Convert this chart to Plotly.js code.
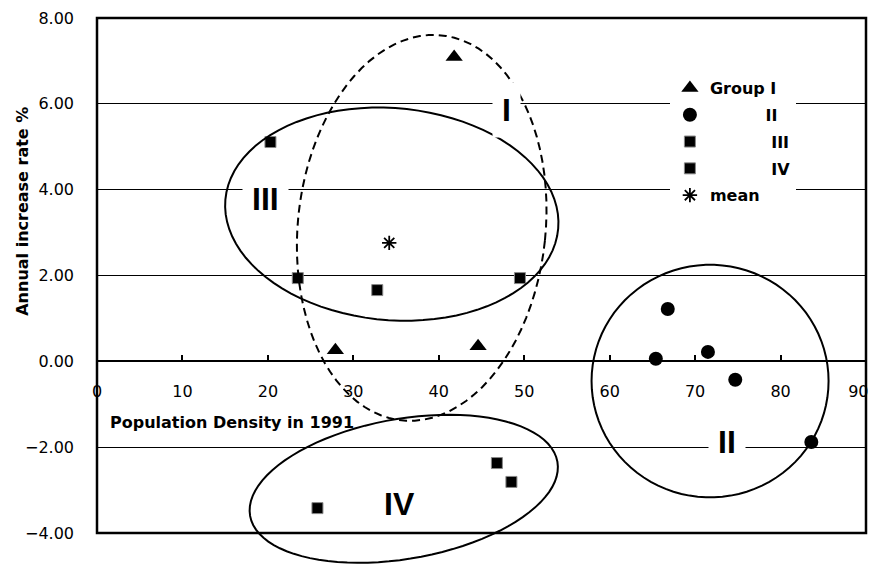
<!DOCTYPE html>
<html>
<head>
<meta charset="utf-8">
<script src="https://cdn.plot.ly/plotly-3.0.1.min.js"></script>
<style>
  body { margin: 0; background: #fff; }
  #myDiv { width: 873px; height: 565px; }
</style>
</head>
<body>
<div id="myDiv"></div>
<script>
// values
var groupIx = [41.8, 27.9, 44.6];
var groupIy = [7.09, 0.26, 0.35];

var groupIIx = [66.8, 65.4, 71.5, 74.7, 83.6];
var groupIIy = [1.22, 0.06, 0.22, -0.43, -1.88];

var groupIIIx = [20.3, 23.5, 32.8, 49.5];
var groupIIIy = [5.11, 1.94, 1.66, 1.94];

var groupIVx = [25.8, 46.8, 48.5];
var groupIVy = [-3.42, -2.37, -2.81];

var meanX = [34.2];
var meanY = [2.76];

var legendNames = ['Group I', '\u00a0'.repeat(10) + 'II', '\u00a0'.repeat(11) + 'III', '\u00a0'.repeat(11) + 'IV', 'mean'];

var yTicks = [-4, -2, 0, 2, 4, 6, 8];
var xTicks = [0, 10, 20, 30, 40, 50, 60, 70, 80, 90];
// last label sits against the frame, pad it so it stays on the page
var xTickText = xTicks.map(function (v) { return v === 90 ? '90\u00a0\u00a0\u00a0' : String(v); });

// group outlines: centre (data), half widths (data units), tilt in degrees
var outlines = [
  {cx: 38.0, cy: 3.11, rx: 14.5, ry: 4.51, deg: 5.9, dash: '8px,5px'},
  {cx: 34.5, cy: 3.43, rx: 19.55, ry: 2.47, deg: 5, dash: 'solid'},
  {cx: 71.75, cy: -0.46, rx: 13.87, ry: 2.71, deg: 0, dash: 'solid'},
  {cx: 35.9, cy: -2.97, rx: 18.26, ry: 1.63, deg: -10, dash: 'solid'}
];
var groupLabels = [
  {text: 'I', x: 47.9, y: 5.86, bg: 'white'},
  {text: 'III', x: 19.7, y: 3.78, bg: 'white'},
  {text: 'II', x: 73.7, y: -1.88, bg: 'white'},
  {text: 'IV', x: 35.4, y: -3.32, bg: 'rgba(0,0,0,0)'}
];

var W = 769, H = 515;
var font = 'DejaVu Sans, sans-serif';

function ellipsePath(e) {
  var a = e.rx * W / 90, b = e.ry * H / 12;
  var cxp = e.cx * W / 90, cyp = (8 - e.cy) * H / 12;
  var th = e.deg * Math.PI / 180;
  var p = '';
  for (var i = 0; i <= 90; i++) {
    var t = i / 90 * 2 * Math.PI;
    var sx = a * Math.cos(t), sy = b * Math.sin(t);
    var X = cxp + sx * Math.cos(th) - sy * Math.sin(th);
    var Y = cyp + sx * Math.sin(th) + sy * Math.cos(th);
    p += (i ? ' L' : 'M') + (X / W).toFixed(5) + ',' + (1 - Y / H).toFixed(5);
  }
  return p + ' Z';
}

var trace1 = {
  x: groupIx, y: groupIy, mode: 'markers', type: 'scatter', name: legendNames[0], legendgroup: 'a',
  marker: {symbol: 'triangle-up', size: 15, color: 'black'}
};
var trace2 = {
  x: groupIIx, y: groupIIy, mode: 'markers', type: 'scatter', name: legendNames[1], legendgroup: 'b',
  marker: {symbol: 'circle', size: 14, color: 'black'}
};
var trace3 = {
  x: groupIIIx, y: groupIIIy, mode: 'markers', type: 'scatter', name: legendNames[2], legendgroup: 'c',
  marker: {symbol: 'square', size: 11, color: 'black', line: {color: '#888', width: 1}}
};
var trace4 = {
  x: groupIVx, y: groupIVy, mode: 'markers', type: 'scatter', name: legendNames[3], legendgroup: 'd',
  marker: {symbol: 'square', size: 11, color: 'black', line: {color: '#888', width: 1}}
};
var trace5 = {
  x: meanX, y: meanY, mode: 'markers', type: 'scatter', name: legendNames[4], legendgroup: 'e',
  marker: {symbol: 'asterisk-open', size: 12, color: 'black', line: {color: 'black', width: 1.8}}
};

var shapes = outlines.map(function (e) {
  return {type: 'path', xref: 'paper', yref: 'paper', path: ellipsePath(e),
    line: {color: 'black', width: 2, dash: e.dash}};
});
// frame
shapes.push({type: 'rect', xref: 'paper', yref: 'paper', x0: 0, x1: 1, y0: 0, y1: 1,
  line: {color: 'black', width: 2.5}});

var annotations = groupLabels.map(function (g) {
  return {text: g.text, x: g.x, y: g.y, xref: 'x', yref: 'y', showarrow: false,
    font: {family: 'Liberation Sans, Arial, sans-serif', size: 32, weight: 'bold', color: 'black'},
    bgcolor: g.bg, borderpad: 9};
});
annotations.push({text: 'Population Density in 1991', xref: 'paper', yref: 'paper',
  x: 0.014, y: 0.2155, xanchor: 'left', yanchor: 'middle', showarrow: false,
  font: {family: font, size: 16, weight: 'bold', color: 'black'}});
annotations.push({text: 'Annual increase rate %', xref: 'paper', yref: 'paper',
  x: -0.098, y: 0.625, xanchor: 'center', yanchor: 'middle', textangle: -90, showarrow: false,
  font: {family: font, size: 16, weight: 'bold', color: 'black'}});

var layout = {
  width: 873, height: 565,
  margin: {l: 97, r: 7, t: 18, b: 32},
  showlegend: true,
  legend: {
    x: 0.745, y: 0.897, xanchor: 'left', yanchor: 'top',
    bgcolor: 'white', borderwidth: 0, tracegroupgap: 3, traceorder: 'grouped',
    font: {family: font, size: 16, weight: 'bold', color: 'black'}
  },
  xaxis: {
    range: [0, 90], tickvals: xTicks, ticktext: xTickText, anchor: 'free', position: 1 / 3,
    showgrid: false, zeroline: false, showline: true, linecolor: 'black', linewidth: 2,
    ticks: 'inside', ticklen: 5, tickwidth: 2, tickcolor: 'black',
    ticklabelstandoff: 15, ticklabeloverflow: 'allow',
    tickfont: {family: font, size: 16, color: 'black'}
  },
  yaxis: {
    range: [-4, 8], tickvals: yTicks, tickformat: '.2f',
    showgrid: true, gridcolor: 'black', gridwidth: 1,
    zeroline: true, zerolinecolor: 'black', zerolinewidth: 2,
    showline: false, ticks: '', ticklabelstandoff: 22,
    tickfont: {family: font, size: 16, color: 'black'}
  },
  shapes: shapes,
  annotations: annotations,
  plot_bgcolor: 'white',
  paper_bgcolor: 'white'
};

Plotly.newPlot('myDiv', [trace1, trace2, trace3, trace4, trace5], layout, {displayModeBar: false});
</script>
</body>
</html>
